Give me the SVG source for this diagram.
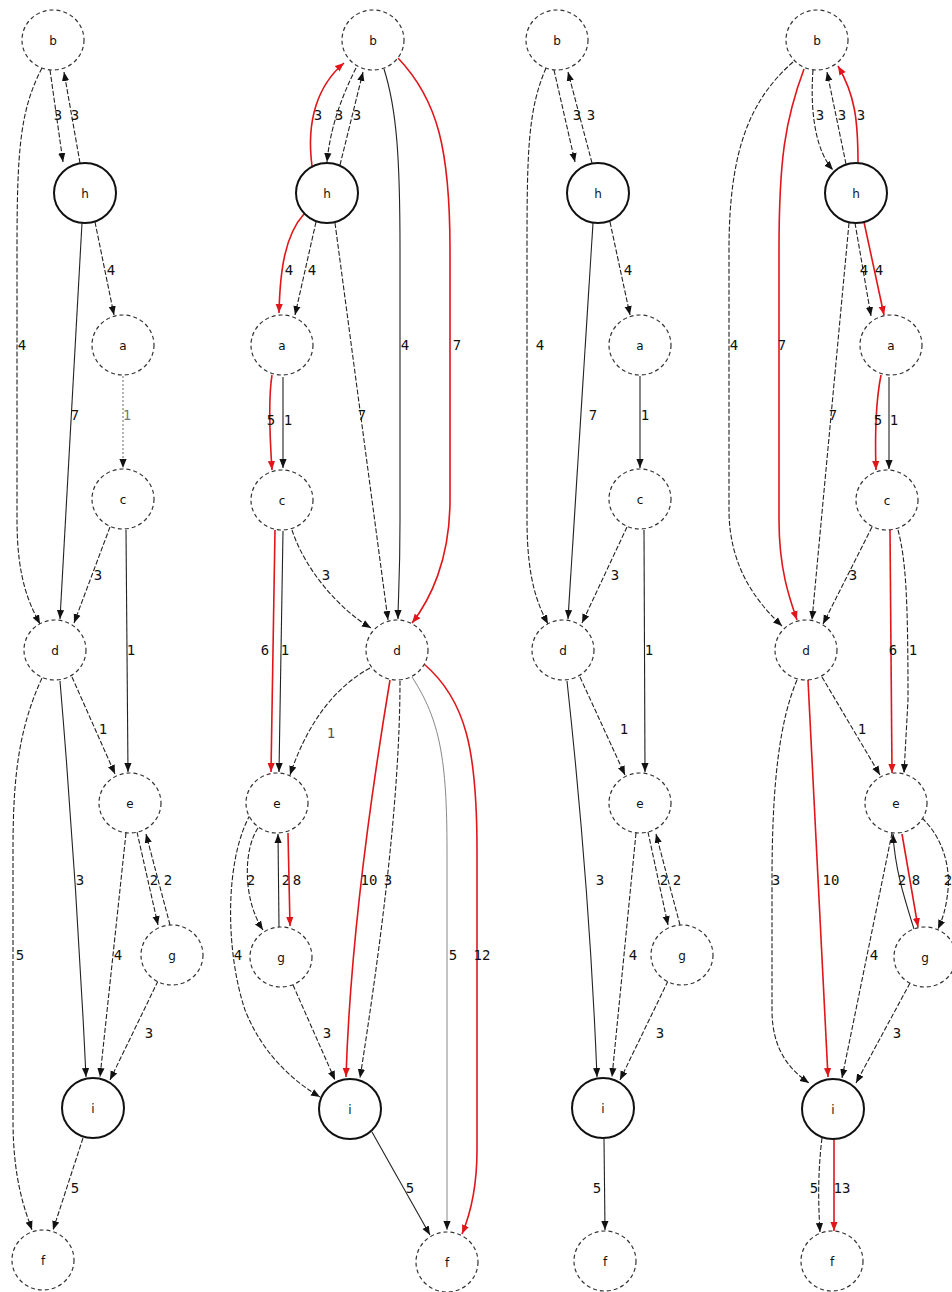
<svg xmlns="http://www.w3.org/2000/svg" width="952" height="1292" viewBox="0 0 952 1292">
<style>
.n{fill:#fff;stroke:#333;stroke-width:1.2;stroke-dasharray:4 3}
.nb{fill:#fff;stroke:#111;stroke-width:2}
.nt{font-family:"DejaVu Sans",sans-serif;font-size:12px;text-anchor:middle;fill:#111}
.e{fill:none;stroke:#222;stroke-width:1.1;stroke-dasharray:5 2;marker-end:url(#ab)}
.s{fill:none;stroke:#222;stroke-width:1.1;marker-end:url(#ab)}
.gy{fill:none;stroke:#888;stroke-width:1;marker-end:url(#ab)}
.r{fill:none;stroke:#e0161b;stroke-width:1.6;marker-end:url(#ar)}
.l{font-family:"DejaVu Sans Mono",monospace;font-size:14px;text-anchor:middle;fill:#111}
</style>
<defs>
<marker id="ab" viewBox="0 0 10 10" refX="10" refY="5" markerWidth="9" markerHeight="9" orient="auto" markerUnits="userSpaceOnUse"><path d="M0,1 L10,5 L0,9 z" fill="#111"/></marker>
<marker id="ar" viewBox="0 0 10 10" refX="10" refY="5" markerWidth="9" markerHeight="9" orient="auto" markerUnits="userSpaceOnUse"><path d="M0,1 L10,5 L0,9 z" fill="#e0161b"/></marker>
</defs>
<rect width="952" height="1292" fill="#fff"/>

<g id="edges-1">
<path class="e" d="M50,70 L63,162"/><text class="l" x="58" y="120">3</text>
<path class="e" d="M80,163 L64,72"/><text class="l" x="75" y="120">3</text>
<path class="e" d="M42,68 C20,110 17,150 17,250 L17,520 C17,580 30,605 40,624"/><text class="l" x="22" y="350">4</text>
<path class="e" d="M95,222 L114,315"/><text class="l" x="111" y="275">4</text>
<path class="s" d="M82,223 L60,619"/><text class="l" x="75" y="420">7</text>
<path class="e" d="M123,376 L123,468" style="stroke:#777;stroke-dasharray:2 2"/><text class="l" x="127" y="420" style="fill:#777">1</text>
<path class="e" d="M110,527 L74,623"/><text class="l" x="98" y="580">3</text>
<path class="s" d="M126,530 L128,772"/><text class="l" x="131" y="655">1</text>
<path class="e" d="M72,677 L115,774"/><text class="l" x="103" y="734">1</text>
<path class="s" d="M60,681 C70,800 80,950 86,1077"/><text class="l" x="80" y="885">3</text>
<path class="e" d="M42,678 C18,730 13,780 13,850 L13,1120 C13,1180 25,1210 32,1230"/><text class="l" x="20" y="960">5</text>
<path class="e" d="M126,833 L100,1077"/><text class="l" x="118" y="960">4</text>
<path class="e" d="M137,832 L158,925"/><text class="l" x="154" y="885">2</text>
<path class="e" d="M170,925 L146,834"/><text class="l" x="168" y="885">2</text>
<path class="e" d="M158,981 L110,1080"/><text class="l" x="149" y="1038">3</text>
<path class="e" d="M83,1138 L53,1230"/><text class="l" x="75" y="1193">5</text>
</g>

<g id="edges-2">
<path class="r" d="M312,166 C306,120 318,85 344,63"/><text class="l" x="318" y="120">3</text>
<path class="e" d="M356,68 C340,100 330,130 327,162"/><text class="l" x="339" y="120">3</text>
<path class="e" d="M340,165 L363,72"/><text class="l" x="357" y="120">3</text>
<path class="s" d="M384,69 C397,110 400,160 400,250 L400,520 C400,580 398,600 398,619"/><text class="l" x="405" y="350">4</text>
<path class="r" d="M398,58 C438,100 450,150 450,250 L450,500 C450,560 430,600 412,623"/><text class="l" x="457" y="350">7</text>
<path class="r" d="M304,214 C285,235 280,270 279,313"/><text class="l" x="289" y="275">4</text>
<path class="e" d="M316,222 L295,315"/><text class="l" x="312" y="275">4</text>
<path class="e" d="M335,223 L388,620"/><text class="l" x="362" y="420">7</text>
<path class="r" d="M272,375 C268,400 270,440 272,470"/><text class="l" x="271" y="425">5</text>
<path class="s" d="M283,377 L283,468"/><text class="l" x="288" y="425">1</text>
<path class="e" d="M292,530 C305,570 340,610 371,628"/><text class="l" x="326" y="580">3</text>
<path class="r" d="M275,530 L271,772"/><text class="l" x="265" y="655">6</text>
<path class="s" d="M283,531 L279,772"/><text class="l" x="285" y="655">1</text>
<path class="e" d="M370,668 C330,690 305,730 290,775"/><text class="l" x="331" y="738" style="fill:#555">1</text>
<path class="r" d="M390,680 C370,800 350,950 346,1077"/><text class="l" x="369" y="885">10</text>
<path class="e" d="M400,681 C400,800 380,950 360,1078"/><text class="l" x="388" y="885">3</text>
<path class="gy" d="M412,677 C440,720 447,760 447,850 L447,1230"/><text class="l" x="453" y="960">5</text>
<path class="r" d="M424,664 C466,700 477,750 477,850 L477,1150 C477,1190 470,1215 462,1234"/><text class="l" x="482" y="960">12</text>
<path class="e" d="M258,828 C243,850 243,900 263,930"/><text class="l" x="251" y="885">2</text>
<path class="s" d="M279,927 L278,834"/><text class="l" x="286" y="885">2</text>
<path class="r" d="M288,833 L290,926"/><text class="l" x="297" y="885">8</text>
<path class="e" d="M250,815 C225,860 225,950 245,1010 C265,1060 300,1085 320,1097"/><text class="l" x="238" y="960">4</text>
<path class="e" d="M293,985 L335,1080"/><text class="l" x="327" y="1038">3</text>
<path class="s" d="M372,1132 L430,1235"/><text class="l" x="410" y="1193">5</text>
</g>

<g id="edges-3">
<path class="e" d="M554,70 L575,162"/><text class="l" x="577" y="120">3</text>
<path class="e" d="M592,163 L568,72"/><text class="l" x="591" y="120">3</text>
<path class="e" d="M546,68 C528,110 527,150 527,250 L527,520 C527,580 538,605 548,624"/><text class="l" x="540" y="350">4</text>
<path class="e" d="M610,222 L630,315"/><text class="l" x="628" y="275">4</text>
<path class="s" d="M593,223 L568,619"/><text class="l" x="593" y="420">7</text>
<path class="s" d="M640,376 L640,468"/><text class="l" x="645" y="420">1</text>
<path class="e" d="M627,527 L582,623"/><text class="l" x="615" y="580">3</text>
<path class="s" d="M644,530 L645,772"/><text class="l" x="649" y="655">1</text>
<path class="e" d="M580,677 L625,775"/><text class="l" x="624" y="734">1</text>
<path class="s" d="M567,681 C580,800 592,950 597,1077"/><text class="l" x="600" y="885">3</text>
<path class="e" d="M636,833 L612,1077"/><text class="l" x="633" y="960">4</text>
<path class="e" d="M648,832 L668,925"/><text class="l" x="664" y="885">2</text>
<path class="e" d="M680,925 L656,834"/><text class="l" x="677" y="885">2</text>
<path class="e" d="M668,981 L620,1080"/><text class="l" x="660" y="1038">3</text>
<path class="s" d="M604,1139 L605,1230"/><text class="l" x="597" y="1193">5</text>
</g>

<g id="edges-4">
<path class="e" d="M793,62 C750,100 729,150 729,250 L729,510 C729,570 760,605 782,626"/><text class="l" x="734" y="350">4</text>
<path class="r" d="M804,69 C785,120 779,160 779,250 L779,520 C779,570 790,600 797,620"/><text class="l" x="782" y="350">7</text>
<path class="e" d="M813,70 C810,110 815,150 833,170"/><text class="l" x="820" y="120">3</text>
<path class="e" d="M846,164 L827,72"/><text class="l" x="842" y="120">3</text>
<path class="r" d="M858,163 C858,120 855,95 838,66"/><text class="l" x="861" y="120">3</text>
<path class="e" d="M849,223 L812,620"/><text class="l" x="833" y="420">7</text>
<path class="e" d="M855,223 L871,316"/><text class="l" x="864" y="275">4</text>
<path class="r" d="M864,222 L884,315"/><text class="l" x="879" y="275">4</text>
<path class="r" d="M881,375 C876,400 875,440 876,470"/><text class="l" x="878" y="425">5</text>
<path class="s" d="M889,377 L889,469"/><text class="l" x="894" y="425">1</text>
<path class="e" d="M872,527 L823,624"/><text class="l" x="853" y="580">3</text>
<path class="r" d="M890,530 L892,773"/><text class="l" x="893" y="655">6</text>
<path class="e" d="M898,530 C906,560 908,600 908,700 L904,773"/><text class="l" x="913" y="655">1</text>
<path class="e" d="M822,677 L880,775"/><text class="l" x="862" y="734">1</text>
<path class="e" d="M797,680 C780,720 772,780 772,880 L772,1010 C772,1050 790,1070 809,1083"/><text class="l" x="776" y="885">3</text>
<path class="r" d="M808,680 L828,1077"/><text class="l" x="831" y="885">10</text>
<path class="e" d="M892,833 L842,1078"/><text class="l" x="874" y="960">4</text>
<path class="s" d="M914,929 C905,900 895,870 893,834"/><text class="l" x="902" y="885">2</text>
<path class="r" d="M902,834 L918,927"/><text class="l" x="916" y="885">8</text>
<path class="e" d="M922,818 C945,840 950,870 948,890 C946,910 942,920 938,929"/><text class="l" x="948" y="885">2</text>
<path class="e" d="M910,983 L856,1083"/><text class="l" x="897" y="1038">3</text>
<path class="e" d="M822,1138 C818,1170 818,1200 820,1232"/><text class="l" x="814" y="1193">5</text>
<path class="r" d="M834,1139 L834,1231"/><text class="l" x="842" y="1193">13</text>
</g>

<!-- graph 1 nodes -->
<g id="g1-b"><ellipse class="n" cx="53" cy="40" rx="31" ry="30"/><text class="nt" x="53" y="45">b</text></g>
<g id="g1-h"><ellipse class="nb" cx="85" cy="193" rx="31" ry="30"/><text class="nt" x="85" y="198">h</text></g>
<g id="g1-a"><ellipse class="n" cx="123" cy="345" rx="31" ry="30"/><text class="nt" x="123" y="350">a</text></g>
<g id="g1-c"><ellipse class="n" cx="123" cy="499" rx="31" ry="30"/><text class="nt" x="123" y="504">c</text></g>
<g id="g1-d"><ellipse class="n" cx="55" cy="650" rx="31" ry="30"/><text class="nt" x="55" y="655">d</text></g>
<g id="g1-e"><ellipse class="n" cx="130" cy="803" rx="31" ry="30"/><text class="nt" x="130" y="808">e</text></g>
<g id="g1-g"><ellipse class="n" cx="172" cy="955" rx="31" ry="30"/><text class="nt" x="172" y="960">g</text></g>
<g id="g1-i"><ellipse class="nb" cx="93" cy="1108" rx="31" ry="30"/><text class="nt" x="93" y="1113">i</text></g>
<g id="g1-f"><ellipse class="n" cx="43" cy="1260" rx="31" ry="30"/><text class="nt" x="43" y="1265">f</text></g>

<!-- graph 2 nodes -->
<g id="g2-b"><ellipse class="n" cx="373" cy="40" rx="31" ry="30"/><text class="nt" x="373" y="45">b</text></g>
<g id="g2-h"><ellipse class="nb" cx="327" cy="193" rx="31" ry="30"/><text class="nt" x="327" y="198">h</text></g>
<g id="g2-a"><ellipse class="n" cx="282" cy="345" rx="31" ry="30"/><text class="nt" x="282" y="350">a</text></g>
<g id="g2-c"><ellipse class="n" cx="282" cy="500" rx="31" ry="30"/><text class="nt" x="282" y="505">c</text></g>
<g id="g2-d"><ellipse class="n" cx="397" cy="650" rx="31" ry="30"/><text class="nt" x="397" y="655">d</text></g>
<g id="g2-e"><ellipse class="n" cx="277" cy="803" rx="31" ry="30"/><text class="nt" x="277" y="808">e</text></g>
<g id="g2-g"><ellipse class="n" cx="281" cy="957" rx="31" ry="30"/><text class="nt" x="281" y="962">g</text></g>
<g id="g2-i"><ellipse class="nb" cx="350" cy="1109" rx="31" ry="30"/><text class="nt" x="350" y="1114">i</text></g>
<g id="g2-f"><ellipse class="n" cx="447" cy="1262" rx="31" ry="30"/><text class="nt" x="447" y="1267">f</text></g>

<!-- graph 3 nodes -->
<g id="g3-b"><ellipse class="n" cx="557" cy="40" rx="31" ry="30"/><text class="nt" x="557" y="45">b</text></g>
<g id="g3-h"><ellipse class="nb" cx="598" cy="193" rx="31" ry="30"/><text class="nt" x="598" y="198">h</text></g>
<g id="g3-a"><ellipse class="n" cx="640" cy="345" rx="31" ry="30"/><text class="nt" x="640" y="350">a</text></g>
<g id="g3-c"><ellipse class="n" cx="640" cy="499" rx="31" ry="30"/><text class="nt" x="640" y="504">c</text></g>
<g id="g3-d"><ellipse class="n" cx="563" cy="650" rx="31" ry="30"/><text class="nt" x="563" y="655">d</text></g>
<g id="g3-e"><ellipse class="n" cx="640" cy="803" rx="31" ry="30"/><text class="nt" x="640" y="808">e</text></g>
<g id="g3-g"><ellipse class="n" cx="682" cy="955" rx="31" ry="30"/><text class="nt" x="682" y="960">g</text></g>
<g id="g3-i"><ellipse class="nb" cx="603" cy="1108" rx="31" ry="30"/><text class="nt" x="603" y="1113">i</text></g>
<g id="g3-f"><ellipse class="n" cx="605" cy="1261" rx="31" ry="30"/><text class="nt" x="605" y="1266">f</text></g>

<!-- graph 4 nodes -->
<g id="g4-b"><ellipse class="n" cx="817" cy="40" rx="31" ry="30"/><text class="nt" x="817" y="45">b</text></g>
<g id="g4-h"><ellipse class="nb" cx="856" cy="193" rx="31" ry="30"/><text class="nt" x="856" y="198">h</text></g>
<g id="g4-a"><ellipse class="n" cx="891" cy="345" rx="31" ry="30"/><text class="nt" x="891" y="350">a</text></g>
<g id="g4-c"><ellipse class="n" cx="887" cy="500" rx="31" ry="30"/><text class="nt" x="887" y="505">c</text></g>
<g id="g4-d"><ellipse class="n" cx="806" cy="650" rx="31" ry="30"/><text class="nt" x="806" y="655">d</text></g>
<g id="g4-e"><ellipse class="n" cx="896" cy="803" rx="31" ry="30"/><text class="nt" x="896" y="808">e</text></g>
<g id="g4-g"><ellipse class="n" cx="925" cy="957" rx="31" ry="30"/><text class="nt" x="925" y="962">g</text></g>
<g id="g4-i"><ellipse class="nb" cx="833" cy="1109" rx="31" ry="30"/><text class="nt" x="833" y="1114">i</text></g>
<g id="g4-f"><ellipse class="n" cx="832" cy="1261" rx="31" ry="30"/><text class="nt" x="832" y="1266">f</text></g>
</svg>
